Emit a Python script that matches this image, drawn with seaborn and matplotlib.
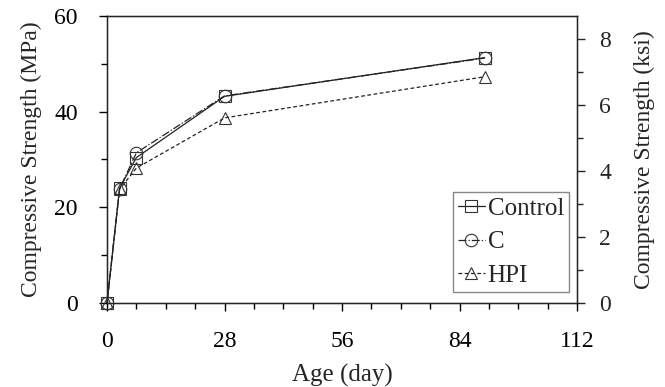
import matplotlib
matplotlib.use("Agg")
import matplotlib.pyplot as plt
from matplotlib.ticker import MultipleLocator
import seaborn as sns
import pandas as pd

age = [0, 3, 7, 28, 90]
control = [0, 24.0, 30.4, 43.2, 51.3]
c_mix = [0, 23.9, 31.4, 43.3, 51.2]
hpi = [0, 23.8, 28.2, 38.7, 47.3]
series_names = ["Control", "C", "HPI"]

sns.set_style("ticks")
plt.rcParams["font.family"] = ["Liberation Serif", "DejaVu Serif"]

fig = plt.figure(figsize=(6.65, 3.87), dpi=100)
ax = fig.add_axes([107/665, 1-303/387, 470/665, 287/387])

styles = [
    dict(marker="s", linestyle="-"),
    dict(marker="o", linestyle="-."),
    dict(marker="^", linestyle=(0, (3, 2))),
]
for name, vals, st in zip(series_names, [control, c_mix, hpi], styles):
    df = pd.DataFrame({"age": age, "val": vals})
    sns.lineplot(data=df, x="age", y="val", ax=ax, color="#222222",
                 linewidth=0.9, marker=st["marker"], linestyle=st["linestyle"],
                 markersize=9, markerfacecolor="none", markeredgecolor="#333333",
                 markeredgewidth=0.8, label=name, clip_on=False, zorder=5)

FS = 17
ax.set_xlim(0, 112)
ax.set_ylim(0, 60)
ax.xaxis.set_major_locator(MultipleLocator(28))
ax.xaxis.set_minor_locator(MultipleLocator(7))
ax.yaxis.set_major_locator(MultipleLocator(20))
ax.yaxis.set_minor_locator(MultipleLocator(10))
ax.set_xlabel("Age (day)", fontsize=FS + 1, labelpad=9)
ax.set_ylabel("Compressive Strength (MPa)", fontsize=FS, labelpad=9)
ax.tick_params(which="both", direction="out", labelsize=FS, width=1, colors="black")
ax.tick_params(axis="y", which="both", pad=15)
ax.tick_params(axis="x", which="both", pad=14)
ax.tick_params(which="major", length=6)
ax.tick_params(which="minor", length=4)
for s in ax.spines.values():
    s.set_linewidth(1)
    s.set_color("black")

ax2 = ax.twinx()
ax2.set_ylim(0, 60/6.895)
ax2.yaxis.set_major_locator(MultipleLocator(2))
ax2.yaxis.set_minor_locator(MultipleLocator(1))
ax2.set_ylabel("Compressive Strength (ksi)", fontsize=FS, labelpad=16)
ax2.tick_params(which="both", direction="out", labelsize=FS, width=1, pad=10)
ax2.tick_params(which="major", length=6)
ax2.tick_params(which="minor", length=4)

leg = ax.legend(loc="lower right", bbox_to_anchor=(0.983, 0.038), borderaxespad=0,
                fontsize=FS + 1, handlelength=1.1, handletextpad=0.1,
                borderpad=0.2, labelspacing=0.45, fancybox=False, framealpha=1,
                edgecolor="#888888")
leg.get_frame().set_linewidth(1)

fig.savefig("out.png", dpi=100)
